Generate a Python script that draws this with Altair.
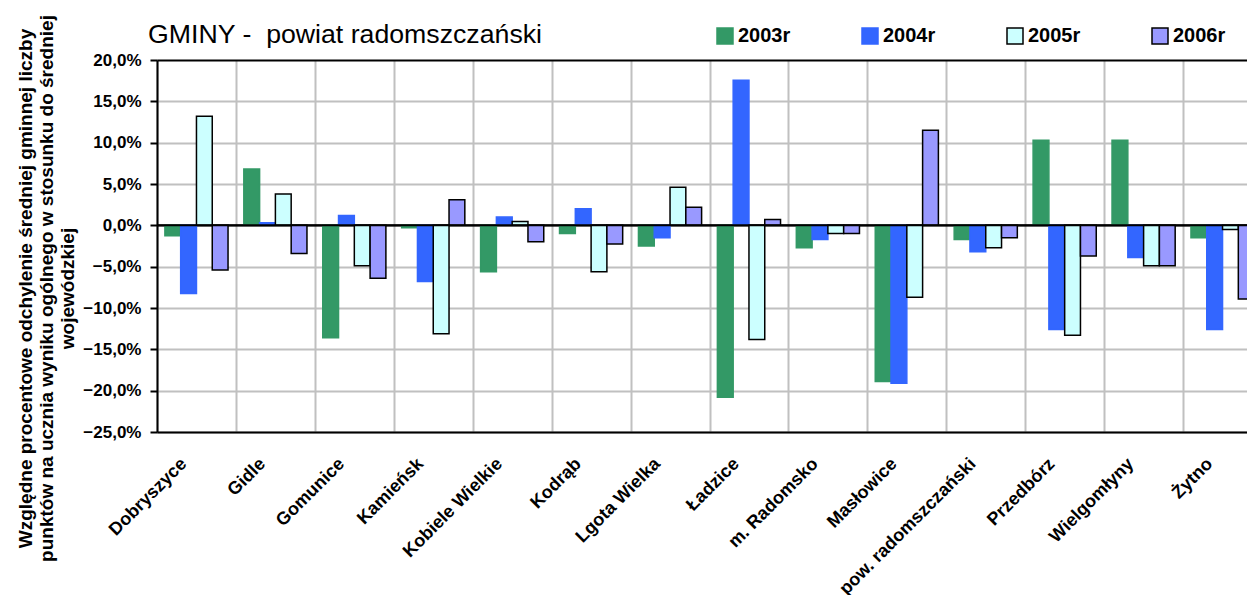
import altair as alt
import pandas as pd

categories = ["Dobryszyce", "Gidle", "Gomunice", "Kamieńsk", "Kobiele Wielkie", "Kodrąb",
              "Lgota Wielka", "Ładzice", "m. Radomsko", "Masłowice", "pow. radomszczański",
              "Przedbórz", "Wielgomłyny", "Żytno"]
years = ["2003r", "2004r", "2005r", "2006r"]

v2003 = [-1.25, 6.8, -13.6, -0.3, -5.6, -1.0, -2.5, -20.8, -2.7, -18.9, -1.7, 10.3, 10.3, -1.5]
v2004 = [-8.25, 0.3, 1.2, -6.8, 1.0, 2.0, -1.5, 17.55, -1.7, -19.1, -3.2, -12.6, -3.9, -12.6]
v2005 = [13.2, 3.8, -4.9, -13.1, 0.45, -5.6, 4.6, -13.8, -1.0, -8.7, -2.7, -13.3, -4.9, -0.5]
v2006 = [-5.4, -3.4, -6.4, 3.1, -2.0, -2.25, 2.2, 0.7, -1.0, 11.5, -1.5, -3.7, -4.9, -8.9]
zero_line = [0.0]

fill_colors = ["#339966", "#3366FF", "#CCFFFF", "#9999FF"]
stroke_colors = ["#339966", "#3366FF", "#000000", "#000000"]
y_ticks = [0.2, 0.15, 0.1, 0.05, 0.0, -0.05, -0.1, -0.15, -0.2, -0.25]

y_title = ["Względne procentowe odchylenie średniej gminnej liczby",
           "punktów na ucznia wyniku ogólnego w stosunku do średniej",
           "wojewódzkiej"]
chart_title = "GMINY -\u00a0 powiat radomszczański"

rows = []
for yr, vals in zip(years, [v2003, v2004, v2005, v2006]):
    for c, v in zip(categories, vals):
        rows.append({"gmina": c, "rok": yr, "wartosc": v / 100.0})
df = pd.DataFrame(rows)
zero_df = pd.DataFrame({"wartosc": zero_line})

FONT = "Liberation Sans"

legend_params = dict(
    title=None, orient="none", legendX=558, legendY=-34, direction="horizontal",
    columns=4, columnPadding=68, symbolType="square", symbolSize=256,
    symbolStrokeWidth=1.5, labelFont=FONT, labelFontSize=20, labelFontWeight="bold",
    labelColor="black", labelOffset=3,
)

y_scale = alt.Scale(domain=[-0.25, 0.2], nice=False, zero=False)

bars = alt.Chart(df).mark_bar(strokeWidth=1.5).encode(
    x=alt.X("gmina:N", sort=categories,
            scale=alt.Scale(paddingInner=0, paddingOuter=0),
            axis=alt.Axis(title=None, tickBand="extent", grid=True, gridColor="#c0c0c0",
                          gridWidth=2, ticks=False, domainColor="black", domainWidth=2,
                          labelAngle=-45, labelAlign="right", labelBaseline="middle",
                          labelFont=FONT, labelFontSize=18, labelFontWeight="bold",
                          labelColor="black", labelPadding=29, labelOffset=-13,
                          labelLimit=400, labelOverlap=False, labelBound=False)),
    xOffset=alt.XOffset("rok:N", sort=years,
                        scale=alt.Scale(paddingInner=0, paddingOuter=0.5)),
    y=alt.Y("wartosc:Q", scale=y_scale,
            axis=alt.Axis(title=y_title, values=y_ticks,
                          labelExpr="replace(format(datum.value, '.1%'), '.', ',')",
                          grid=True,
                          gridColor=alt.condition("datum.value == 0 || datum.value == 0.2",
                                                  alt.value("black"), alt.value("#c0c0c0")),
                          gridWidth=2, tickSize=7, tickWidth=2, tickColor="black",
                          domainColor="black", domainWidth=2, labelPadding=9,
                          labelFont=FONT, labelFontSize=17, labelFontWeight="bold",
                          labelColor="black",
                          titleFont=FONT, titleFontSize=19, titleFontWeight="bold",
                          titleColor="black", titleLineHeight=21, titleAngle=-90,
                          titleAlign="center", titleBaseline="middle",
                          titleX=-132, titleY=228)),
    fill=alt.Fill("rok:N", scale=alt.Scale(domain=years, range=fill_colors),
                  legend=alt.Legend(**legend_params)),
    stroke=alt.Stroke("rok:N", scale=alt.Scale(domain=years, range=stroke_colors),
                      legend=alt.Legend(**legend_params)),
)

zero_rule = alt.Chart(zero_df).mark_rule(color="black", strokeWidth=2).encode(
    y=alt.Y("wartosc:Q", scale=y_scale)
)

chart = alt.layer(bars, zero_rule).properties(
    width=1105, height=372,
    title=alt.Title(chart_title, anchor="start", frame="group", font=FONT, fontSize=26.7,
                    fontWeight="normal", color="black", offset=8, dx=-9, dy=63,
                    baseline="alphabetic"),
    autosize=alt.AutoSizeParams(type="none"),
    padding={"left": 149, "top": 52, "right": -15, "bottom": 163},
).configure_view(stroke=None).configure(background="white")

chart.save("out.html", embed_options={"renderer": "svg", "actions": False})
